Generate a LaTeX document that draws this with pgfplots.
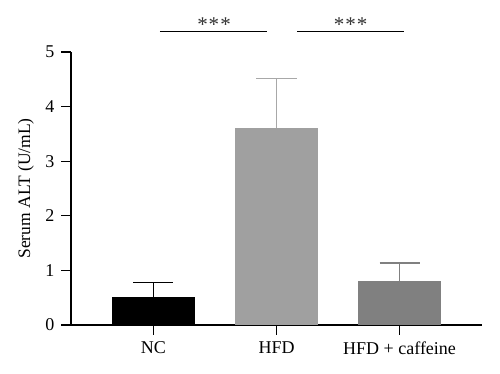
\documentclass[border=0pt]{standalone}
\usepackage{pgfplots}
\pgfplotsset{compat=1.18}
\usepackage{fontspec}
\setmainfont{Liberation Serif}
\definecolor{hfd}{RGB}{160,160,160}
\definecolor{caf}{RGB}{128,128,128}
\definecolor{hfderr}{RGB}{168,168,168}
\definecolor{star}{RGB}{50,50,50}
\begin{document}
\begin{tikzpicture}
\begin{axis}[
  scale only axis, width=411pt, height=273pt,
  xmin=-0.67, xmax=2.67, ymin=0, ymax=5,
  axis x line*=bottom, axis y line*=left,
  axis line style={line width=1.3pt, -},
  xtick={0,1,2}, xticklabels={NC,HFD,HFD + caffeine},
  ytick={0,1,2,3,4,5},
  tick style={line width=1.3pt, black},
  major tick length=10pt,
  tick align=outside,
  ticklabel style={font=\fontsize{18}{21}\selectfont},
  xticklabel style={yshift=-3pt},
  yticklabel style={xshift=-3pt},
  /pgf/number format/assume math mode=true,
  ylabel={Serum ALT (U/mL)},
  ylabel style={font=\fontsize{17.5}{21}\selectfont, at={(axis description cs:-0.1095,0.5)}, anchor=center},
  clip=false,
  ybar, bar width=82pt, bar shift=0pt,
]
\addplot[fill=black, draw=black, line width=0pt,
  error bars/.cd, y dir=plus, y explicit,
  error bar style={black, line width=1.3pt},
  error mark options={rotate=90, mark size=20pt, line width=1.3pt, black}]
  coordinates {(0,0.50) +- (0,0.28)};
\addplot[fill=hfd, draw=hfd, line width=0pt,
  error bars/.cd, y dir=plus, y explicit,
  error bar style={hfderr, line width=1.3pt},
  error mark options={rotate=90, mark size=20.5pt, line width=1.3pt, hfderr}]
  coordinates {(1,3.60) +- (0,0.92)};
\addplot[fill=caf, draw=caf, line width=0pt,
  error bars/.cd, y dir=plus, y explicit,
  error bar style={caf, line width=1.3pt},
  error mark options={rotate=90, mark size=20pt, line width=1.3pt, caf}]
  coordinates {(2,0.80) +- (0,0.335)};
\draw[line width=1.3pt] (axis cs:0.053,5.37) -- (axis cs:0.925,5.37);
\draw[line width=1.3pt] (axis cs:1.167,5.37) -- (axis cs:2.039,5.37);
\node[star, font=\fontsize{21}{24}\selectfont, inner sep=0pt] at (axis cs:0.492,5.50) {*\kern1pt*\kern1pt*};
\node[star, font=\fontsize{21}{24}\selectfont, inner sep=0pt] at (axis cs:1.603,5.50) {*\kern1pt*\kern1pt*};
\path (axis cs:-1.247,-0.897) rectangle (axis cs:2.816,5.952);
\end{axis}
\end{tikzpicture}
\end{document}
